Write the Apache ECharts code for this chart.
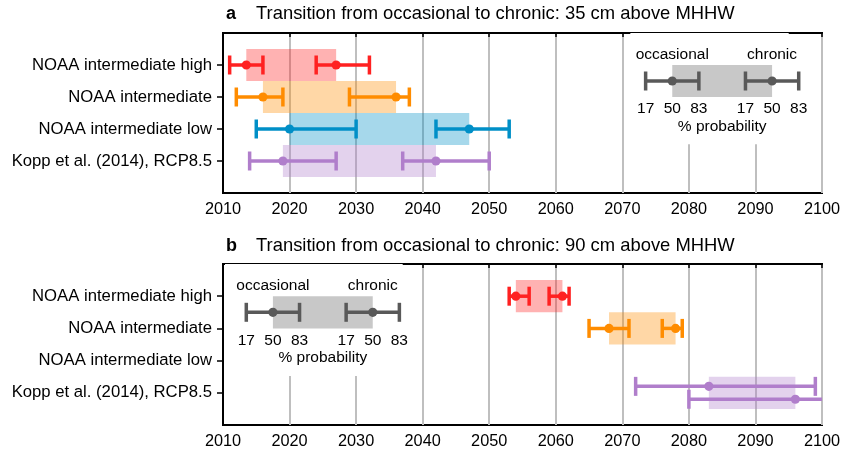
<!DOCTYPE html>
<html>
<head>
<meta charset="utf-8">
<script src="https://cdn.jsdelivr.net/npm/echarts@6.0.0/dist/echarts.min.js"></script>
<style>
html, body { margin: 0; padding: 0; background: #fff; }
#chart { width: 846px; height: 454px; }
</style>
</head>
<body>
<div id="chart"></div>
<script>
// rows, top to bottom
const scenarios = ['NOAA intermediate high', 'NOAA intermediate', 'NOAA intermediate low', 'Kopp et al. (2014), RCP8.5'];
const lineColors = ['#ff2121', '#ff8c00', '#008fc7', '#b07ecb'];

// year reached, as [17, 50, 83] % probability
// a: 35 cm above MHHW
const occasional35 = [[2011, 2013.5, 2016], [2012, 2016, 2019], [2015, 2020, 2030], [2014, 2019, 2027]];
const chronic35 = [[2024, 2027, 2032], [2029, 2036, 2038], [2042, 2047, 2053], [2037, 2042, 2050]];
// b: 90 cm above MHHW (null = not reached before 2100)
const occasional90 = [[2053, 2054, 2056], [2065, 2068, 2071], null, [2072, 2083, 2099]];
const chronic90 = [[2059, 2061, 2062], [2076, 2078, 2079], null, [2080, 2096, 2103]];
// Kopp bars in b are drawn apart so they don't sit on top of each other
const occShift90 = [0, 0, 0, -0.2];
const chrShift90 = [0, 0, 0, 0.2];

// key: medians of the example bars, and the white patch behind it
const keyMidA = [2077.5, 2092.5];
const keyMidB = [2017.5, 2032.5];
const keyBgA = [2071.2, 2095];
const keyBgB = [2010.3, 2037];
const keySpread = 4;
const keyTicks = ['17', '50', '83'];

const FONT = '"Liberation Sans", Arial, sans-serif';

let chart = echarts.init(document.getElementById('chart'));

function boxData(occ, chr) {
    let out = [];
    for (let i = 0; i < scenarios.length; i++) {
        if (!occ[i]) continue;
        out.push([i + 1, occ[i][1], chr[i][1], i]);
    }
    return out;
}

function barData(set, shifts) {
    let out = [];
    for (let i = 0; i < scenarios.length; i++) {
        if (!set[i]) continue;
        out.push([i + 1 + (shifts ? shifts[i] : 0), set[i][0], set[i][1], set[i][2], i]);
    }
    return out;
}

function renderBox(params, api) {
    let row = api.value(0);
    let p0 = api.coord([api.value(1), row - 0.5]);
    let p1 = api.coord([api.value(2), row + 0.5]);
    return {
        type: 'rect',
        shape: { x: p0[0], y: p0[1], width: p1[0] - p0[0], height: p1[1] - p0[1] },
        style: { fill: lineColors[api.value(3)], opacity: 0.35 }
    };
}

function errorBar(lo, mid, hi, color) {
    let cap = 9.5;
    let w = 3.5;
    return [
        { type: 'line', shape: { x1: lo[0], y1: lo[1], x2: hi[0], y2: hi[1] }, style: { stroke: color, lineWidth: w } },
        { type: 'line', shape: { x1: lo[0], y1: lo[1] - cap, x2: lo[0], y2: lo[1] + cap }, style: { stroke: color, lineWidth: w } },
        { type: 'line', shape: { x1: hi[0], y1: hi[1] - cap, x2: hi[0], y2: hi[1] + cap }, style: { stroke: color, lineWidth: w } },
        { type: 'circle', shape: { cx: mid[0], cy: mid[1], r: 4.6 }, style: { fill: color } }
    ];
}

function renderBar(params, api) {
    let row = api.value(0);
    return {
        type: 'group',
        children: errorBar(
            api.coord([api.value(1), row]),
            api.coord([api.value(2), row]),
            api.coord([api.value(3), row]),
            lineColors[api.value(4)]
        )
    };
}

function keyText(pos, text) {
    return {
        type: 'text', x: pos[0], y: pos[1],
        style: { text: text, fill: '#000', font: '15.5px ' + FONT, align: 'center', verticalAlign: 'middle' }
    };
}

function makeKey(mid, bg) {
    return function (params, api) {
        let bg0 = api.coord([bg[0], 0]);
        let bg1 = api.coord([bg[1], 3.48]);
        let b0 = api.coord([mid[0], 1]);
        let b1 = api.coord([mid[1], 2]);
        let kids = [
            { type: 'rect', shape: { x: bg0[0], y: bg0[1], width: bg1[0] - bg0[0], height: bg1[1] - bg0[1] }, style: { fill: '#fff' } },
            { type: 'rect', shape: { x: b0[0], y: b0[1], width: b1[0] - b0[0], height: b1[1] - b0[1] }, style: { fill: '#c8c8c8' } }
        ];
        mid.forEach(function (m) {
            kids = kids.concat(errorBar(
                api.coord([m - keySpread, 1.5]),
                api.coord([m, 1.5]),
                api.coord([m + keySpread, 1.5]),
                '#595959'
            ));
            [m - keySpread, m, m + keySpread].forEach(function (x, k) {
                kids.push(keyText(api.coord([x, 2.37]), keyTicks[k]));
            });
        });
        kids.push(keyText(api.coord([mid[0], 0.68]), 'occasional'));
        kids.push(keyText(api.coord([mid[1], 0.68]), 'chronic'));
        kids.push(keyText(api.coord([(mid[0] + mid[1]) / 2, 2.92]), '% probability'));
        return { type: 'group', children: kids };
    };
}

function xAxisFor(idx) {
    return {
        type: 'value', gridIndex: idx, min: 2010, max: 2100, interval: 10,
        axisLine: { show: true, lineStyle: { color: '#000', width: 2 } },
        axisTick: { show: true, length: 4, lineStyle: { color: '#000', width: 1.5 } },
        axisLabel: { color: '#000', fontSize: 16.3, fontFamily: FONT, margin: 9, formatter: function (v) { return String(v); } },
        splitLine: { show: true, lineStyle: { color: '#bfbfbf', width: 2 } }
    };
}

function yAxisFor(idx) {
    return {
        type: 'value', gridIndex: idx, min: 0, max: 5, inverse: true,
        axisLine: { show: true, lineStyle: { color: '#000', width: 2 } },
        axisTick: { show: true, length: 6, customValues: [1, 2, 3, 4], lineStyle: { color: '#000', width: 1.5 } },
        axisLabel: {
            color: '#000', fontSize: 16.7, fontFamily: FONT, margin: 11,
            customValues: [1, 2, 3, 4],
            formatter: function (v) { return scenarios[v - 1] || ''; }
        },
        splitLine: { show: false }
    };
}

function panelSeries(idx, occ, chr, occShift, chrShift, mid, bg) {
    let base = { type: 'custom', xAxisIndex: idx, yAxisIndex: idx, clip: true, silent: true, animation: false };
    return [
        Object.assign({}, base, { z: 3, renderItem: makeKey(mid, bg), data: [[0, mid[0], mid[1]]], encode: { x: [1, 2], y: 0 } }),
        Object.assign({}, base, { z: 4, renderItem: renderBox, data: boxData(occ, chr), encode: { x: [1, 2], y: 0 } }),
        Object.assign({}, base, { z: 5, renderItem: renderBar, data: barData(occ, occShift), encode: { x: [1, 2, 3], y: 0 } }),
        Object.assign({}, base, { z: 5, renderItem: renderBar, data: barData(chr, chrShift), encode: { x: [1, 2, 3], y: 0 } })
    ];
}

let option = {
    backgroundColor: '#fff',
    animation: false,
    textStyle: { fontFamily: FONT },
    grid: [
        { left: 223, right: 24, top: 33, height: 160, show: true, borderColor: '#000', borderWidth: 2 },
        { left: 223, right: 24, top: 264, height: 161, show: true, borderColor: '#000', borderWidth: 2 }
    ],
    xAxis: [xAxisFor(0), xAxisFor(1)],
    yAxis: [yAxisFor(0), yAxisFor(1)],
    graphic: [
        { type: 'text', left: 226, top: 5, style: { text: 'a', font: 'bold 18px ' + FONT, fill: '#000' } },
        { type: 'text', left: 256, top: 5, style: { text: 'Transition from occasional to chronic: 35 cm above MHHW', font: '18.4px ' + FONT, fill: '#000' } },
        { type: 'text', left: 226, top: 237, style: { text: 'b', font: 'bold 18px ' + FONT, fill: '#000' } },
        { type: 'text', left: 256, top: 237, style: { text: 'Transition from occasional to chronic: 90 cm above MHHW', font: '18.4px ' + FONT, fill: '#000' } }
    ],
    series: [].concat(
        panelSeries(0, occasional35, chronic35, null, null, keyMidA, keyBgA),
        panelSeries(1, occasional90, chronic90, occShift90, chrShift90, keyMidB, keyBgB)
    )
};

chart.setOption(option);
</script>
</body>
</html>
